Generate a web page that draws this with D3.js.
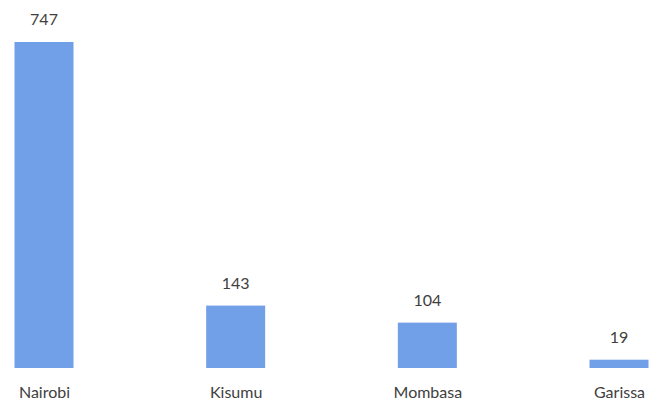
<!DOCTYPE html>
<html><head><meta charset="utf-8">
<script src="https://cdn.jsdelivr.net/npm/d3@7"></script>
<style>html,body{margin:0;padding:0;background:#fff;}svg{display:block;}</style>
</head><body>
<svg id="c" width="651" height="407"></svg>
<script>
const categories = ["Nairobi", "Kisumu", "Mombasa", "Garissa"];
const values = [747, 143, 104, 19];

const svg = d3.select("#c");
const x = d3.scalePoint().domain(categories).range([44, 619]);
const y = d3.scaleLinear().domain([0, 747]).range([368, 42]);
const bw = 59;
const font = "Lato, 'Open Sans', sans-serif";

svg.selectAll("rect.bar").data(categories).enter().append("rect")
  .attr("class", "bar")
  .attr("x", d => x(d) - bw / 2)
  .attr("y", (d, i) => y(values[i]))
  .attr("width", bw)
  .attr("height", (d, i) => y(0) - y(values[i]))
  .attr("fill", "#71a0e8");

svg.selectAll("text.val").data(categories).enter().append("text")
  .attr("class", "val")
  .attr("x", d => x(d))
  .attr("y", (d, i) => y(values[i]) - 17)
  .attr("text-anchor", "middle")
  .attr("font-family", font).attr("font-size", 16)
  .attr("fill", "#404040")
  .text((d, i) => values[i]);

const xAxis = d3.axisBottom(x).tickSize(0).tickPadding(0);
const g = svg.append("g").attr("transform", "translate(0,387)").call(xAxis);
g.select(".domain").remove();
g.selectAll("text").attr("font-family", font).attr("font-size", 16).attr("fill", "#404040");
</script>
</body></html>
